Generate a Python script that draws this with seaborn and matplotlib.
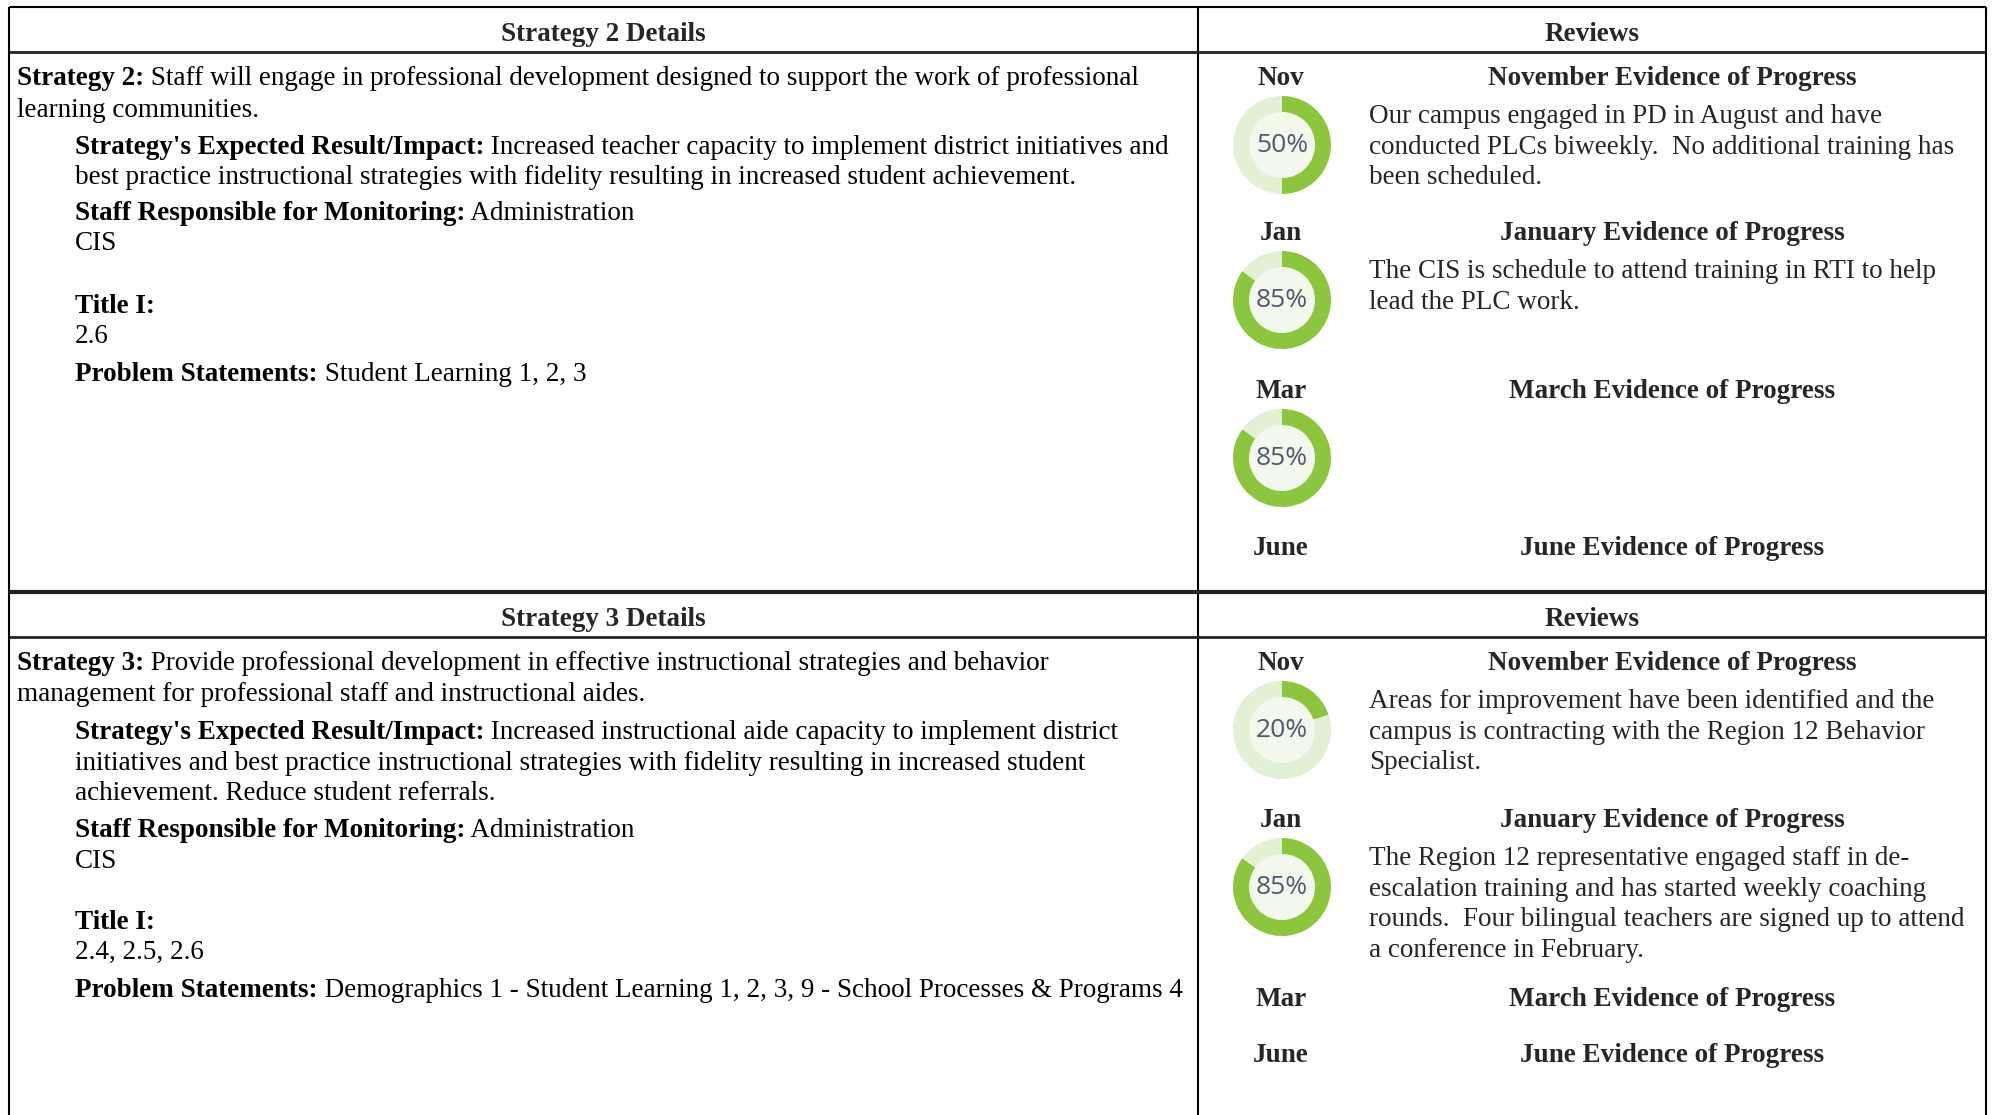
"""
plot.py -- campus improvement plan review table with progress donuts.
"""

import matplotlib
matplotlib.use("Agg")
import matplotlib.pyplot as plt
from matplotlib.patches import Circle
import seaborn as sns

# -- Data ----------------------------------------------------------------------

DETAIL_HEADERS = ["Strategy 2 Details", "Strategy 3 Details"]
REVIEW_HEADER = "Reviews"

MONTHS = ["Nov", "Jan", "Mar", "June"]
EVIDENCE_TITLES = [
    "November Evidence of Progress",
    "January Evidence of Progress",
    "March Evidence of Progress",
    "June Evidence of Progress",
]

# percent complete per review (None = no donut)
S2_PROGRESS = [50, 85, 85, None]
S3_PROGRESS = [20, 85, None, None]

S2_DETAILS = [
    ("Strategy 2:", " Staff will engage in professional development designed to support the work of professional", 0),
    ("", "learning communities.", 0),
    ("Strategy's Expected Result/Impact:", " Increased teacher capacity to implement district initiatives and", 1),
    ("", "best practice instructional strategies with fidelity resulting in increased student achievement.", 1),
    ("Staff Responsible for Monitoring:", " Administration", 1),
    ("", "CIS", 1),
    ("Title I:", "", 1),
    ("", "2.6", 1),
    ("Problem Statements:", " Student Learning 1, 2, 3", 1),
]
S3_DETAILS = [
    ("Strategy 3:", " Provide professional development in effective instructional strategies and behavior", 0),
    ("", "management for professional staff and instructional aides.", 0),
    ("Strategy's Expected Result/Impact:", " Increased instructional aide capacity to implement district", 1),
    ("", "initiatives and best practice instructional strategies with fidelity resulting in increased student", 1),
    ("", "achievement. Reduce student referrals.", 1),
    ("Staff Responsible for Monitoring:", " Administration", 1),
    ("", "CIS", 1),
    ("Title I:", "", 1),
    ("", "2.4, 2.5, 2.6", 1),
    ("Problem Statements:", " Demographics 1 - Student Learning 1, 2, 3, 9 - School Processes & Programs 4", 1),
]

S2_EVIDENCE = [
    ["Our campus engaged in PD in August and have",
     "conducted PLCs biweekly.  No additional training has",
     "been scheduled."],
    ["The CIS is schedule to attend training in RTI to help",
     "lead the PLC work."],
    [],
    [],
]
S3_EVIDENCE = [
    ["Areas for improvement have been identified and the",
     "campus is contracting with the Region 12 Behavior",
     "Specialist."],
    ["The Region 12 representative engaged staff in de-",
     "escalation training and has started weekly coaching",
     "rounds.  Four bilingual teachers are signed up to attend",
     "a conference in February."],
    [],
    [],
]

# -- Layout (pixels) -----------------------------------------------------------

W, H = 1995, 1115
X_LEFT, X_MID, X_RIGHT = 9, 1198, 1986
X_TEXT, X_INDENT = 17, 75
X_MONTH, X_EVID_TITLE, X_EVID_TEXT = 1281, 1672, 1369
LINE_H = 30.6
DY = 3.5          # bbox centre -> visual centre of a text line
DONUT_R = 49
DONUT_DY = 70

BLOCKS = [
    dict(top=7, head_bot=52, header_y=31,
         detail_y=[75, 107, 144, 174, 210, 240, 303, 333, 371],
         month_y=[75, 230, 388, 545]),
    dict(top=592, head_bot=637, header_y=616,
         detail_y=[660, 691, 729, 760, 790, 827, 858, 919, 949, 987],
         month_y=[660, 817, 996, 1052]),
]

GREEN = "#8cc63f"
GREEN_LIGHT = "#e2f0d5"
GREEN_INNER = "#f2f8ec"
PCT_COLOR = "#4f5870"

FS = 19.5
SERIF = ["Liberation Serif", "DejaVu Serif"]

sns.set_theme(style="white")
plt.rcParams["font.family"] = SERIF


def px_axes(fig, cx, cy, r):
    return fig.add_axes([(cx - r) / W, 1 - (cy + r) / H, 2 * r / W, 2 * r / H])


def draw_donut(fig, cx, cy, pct):
    dax = px_axes(fig, cx, cy, DONUT_R)
    dax.pie([pct, 100 - pct], colors=[GREEN, GREEN_LIGHT], startangle=90,
            counterclock=False, radius=1.0,
            wedgeprops=dict(width=0.34, edgecolor="none"))
    dax.add_patch(Circle((0, 0), 0.66, color=GREEN_INNER, zorder=3))
    dax.text(0, -0.02, f"{pct}%", ha="center", va="center", fontsize=19,
             color=PCT_COLOR, family=["Open Sans", "DejaVu Sans"], zorder=4)
    dax.set_xlim(-1, 1)
    dax.set_ylim(-1, 1)
    dax.set_aspect("equal")
    dax.axis("off")


def label_line(ax, x, y, bold, rest):
    if bold:
        t = ax.text(x, y + DY, bold, ha="left", va="center", fontsize=FS,
                    fontweight="bold", color="black")
        if rest:
            ax.annotate(rest, xy=(1, 0.5), xycoords=t, ha="left", va="center",
                        fontsize=FS, color="black")
    else:
        ax.text(x, y + DY, rest, ha="left", va="center", fontsize=FS, color="black")


def main() -> None:
    fig = plt.figure(figsize=(W / 100, H / 100), dpi=100)
    ax = fig.add_axes([0, 0, 1, 1])
    ax.set_xlim(0, W)
    ax.set_ylim(H, 0)
    ax.axis("off")

    # -- grid lines
    ax.vlines([X_LEFT, X_MID, X_RIGHT], BLOCKS[0]["top"], H, color="black", lw=1.5)
    ax.hlines(BLOCKS[0]["top"], X_LEFT, X_RIGHT, color="black", lw=1.5)
    ax.hlines(BLOCKS[1]["top"], X_LEFT, X_RIGHT, color="#222222", lw=3.0)
    for b in BLOCKS:
        ax.hlines(b["head_bot"], X_LEFT, X_RIGHT, color="#222222", lw=2.0)

    details = [S2_DETAILS, S3_DETAILS]
    progress = [S2_PROGRESS, S3_PROGRESS]
    evidence = [S2_EVIDENCE, S3_EVIDENCE]

    for i, b in enumerate(BLOCKS):
        ax.text((X_LEFT + X_MID) / 2, b["header_y"] + DY, DETAIL_HEADERS[i], ha="center",
                va="center", fontsize=FS, fontweight="bold")
        ax.text((X_MID + X_RIGHT) / 2, b["header_y"] + DY, REVIEW_HEADER, ha="center",
                va="center", fontsize=FS, fontweight="bold")

        for (bold, rest, indent), y in zip(details[i], b["detail_y"]):
            label_line(ax, X_INDENT if indent else X_TEXT, y, bold, rest)

        for j, my in enumerate(b["month_y"]):
            ax.text(X_MONTH, my + DY, MONTHS[j], ha="center", va="center",
                    fontsize=FS, fontweight="bold")
            ax.text(X_EVID_TITLE, my + DY, EVIDENCE_TITLES[j], ha="center",
                    va="center", fontsize=FS, fontweight="bold")
            for k, line in enumerate(evidence[i][j]):
                ax.text(X_EVID_TEXT, my + DY + 38 + k * LINE_H, line, ha="left",
                        va="center", fontsize=FS)
            if progress[i][j] is not None:
                draw_donut(fig, X_MONTH + 1, my + DONUT_DY, progress[i][j])

    fig.savefig("out.png", dpi=100, facecolor="white")


if __name__ == "__main__":
    main()
